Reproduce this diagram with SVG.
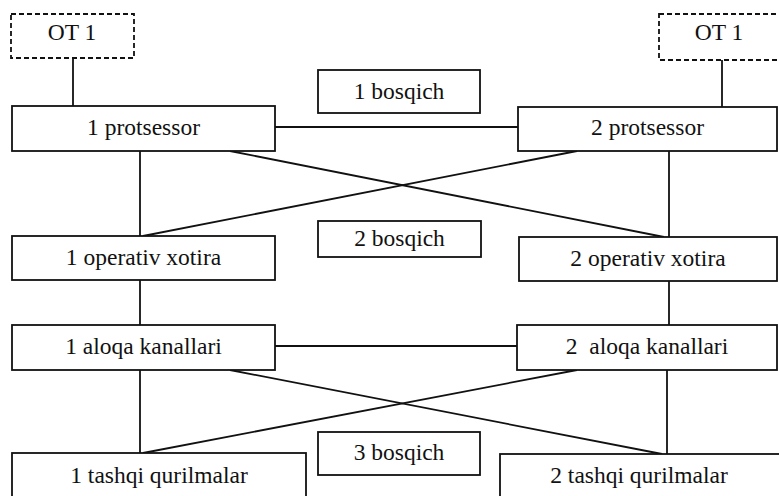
<svg xmlns="http://www.w3.org/2000/svg" width="779" height="496" viewBox="0 0 779 496">
<style>
.box{fill:#fff;stroke:#111;stroke-width:1.8}
.dash{fill:#fff;stroke:#111;stroke-width:1.8;stroke-dasharray:5 3}
.c line{stroke:#111;stroke-width:1.8}
</style>
<rect width="779" height="496" fill="#fff"/>
<g class="c" id="connectors">
<line x1="73" y1="58" x2="73" y2="106"/>
<line x1="722" y1="60" x2="722" y2="107"/>
<line x1="275" y1="127" x2="518" y2="127"/>
<line x1="140" y1="151" x2="140" y2="236"/>
<line x1="669" y1="151" x2="669" y2="237"/>
<line x1="230" y1="151" x2="664" y2="237"/>
<line x1="577" y1="151" x2="143" y2="236"/>
<line x1="140" y1="280" x2="140" y2="325"/>
<line x1="669" y1="281" x2="669" y2="325"/>
<line x1="275" y1="346" x2="517" y2="346"/>
<line x1="140" y1="370" x2="140" y2="453"/>
<line x1="667" y1="370" x2="667" y2="454"/>
<line x1="230" y1="370" x2="662" y2="454"/>
<line x1="577" y1="370" x2="143" y2="453"/>
</g>
<g font-family="Liberation Serif, Times New Roman, Times, serif" font-size="23.5" fill="#111" text-anchor="middle">
<g id="ot1-left"><rect class="dash" x="11" y="14" width="123" height="44"/><text x="72" y="40">OT 1</text></g>
<g id="ot1-right"><rect class="dash" x="659" y="14" width="140" height="46"/><text x="719" y="40">OT 1</text></g>
<g id="bosqich1"><rect class="box" x="318" y="70" width="162" height="43"/><text x="399" y="99">1 bosqich</text></g>
<g id="protsessor1"><rect class="box" x="12" y="106" width="263" height="45"/><text x="143.5" y="135">1 protsessor</text></g>
<g id="protsessor2"><rect class="box" x="518" y="107" width="259" height="44"/><text x="647.5" y="135">2 protsessor</text></g>
<g id="bosqich2"><rect class="box" x="318" y="221" width="163" height="36"/><text x="399.5" y="246">2 bosqich</text></g>
<g id="xotira1"><rect class="box" x="12" y="236" width="263" height="44"/><text x="143.5" y="265">1 operativ xotira</text></g>
<g id="xotira2"><rect class="box" x="519" y="237" width="258" height="44"/><text x="648" y="266">2 operativ xotira</text></g>
<g id="aloqa1"><rect class="box" x="12" y="325" width="263" height="45"/><text x="143.5" y="354">1 aloqa kanallari</text></g>
<g id="aloqa2"><rect class="box" x="517" y="325" width="260" height="45"/><text x="647" y="354" xml:space="preserve">2  aloqa kanallari</text></g>
<g id="bosqich3"><rect class="box" x="318" y="432" width="162" height="43"/><text x="399" y="460">3 bosqich</text></g>
<g id="tashqi1"><rect class="box" x="12" y="453" width="294" height="60"/><text x="159" y="483">1 tashqi qurilmalar</text></g>
<g id="tashqi2"><rect class="box" x="500" y="454" width="300" height="60"/><text x="639" y="483">2 tashqi qurilmalar</text></g>
</g>
</svg>
